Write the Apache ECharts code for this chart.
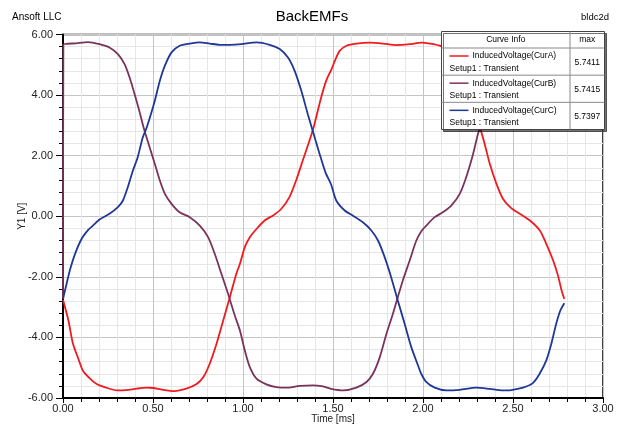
<!DOCTYPE html>
<html>
<head>
<meta charset="utf-8">
<script src="https://cdn.jsdelivr.net/npm/echarts/dist/echarts.min.js"></script>
<style>
  html, body { margin: 0; padding: 0; background: #fff; }
  #chart { width: 617px; height: 424px; }
</style>
</head>
<body>
<div id="chart"></div>
<script>
// BackEMFs – induced voltage of the three coils, [time ms, volts]
const curA = [
  [0, -2.76], [0.03, -3.44], [0.055, -4.2], [0.085, -4.7], [0.11, -5.09], [0.15, -5.36],
  [0.185, -5.53], [0.24, -5.66], [0.3, -5.75], [0.35, -5.74], [0.41, -5.69], [0.465, -5.66],
  [0.5, -5.67], [0.555, -5.73], [0.62, -5.77], [0.685, -5.69], [0.74, -5.55], [0.78, -5.31],
  [0.815, -4.87], [0.853, -4.21], [0.89, -3.44], [0.927, -2.67], [0.963, -1.9], [0.983, -1.57],
  [1.01, -1.02], [1.038, -0.69], [1.075, -0.42], [1.12, -0.14], [1.165, 0.02], [1.212, 0.24],
  [1.258, 0.63], [1.295, 1.18], [1.332, 1.84], [1.369, 2.49], [1.397, 3.04], [1.434, 3.92],
  [1.462, 4.47], [1.492, 4.86], [1.51, 5.13], [1.537, 5.46], [1.575, 5.63], [1.63, 5.7],
  [1.705, 5.73], [1.778, 5.7], [1.852, 5.65], [1.926, 5.68], [1.993, 5.73], [2.037, 5.7],
  [2.093, 5.63], [2.13, 5.5], [2.175, 5.24], [2.215, 4.8], [2.25, 4.14], [2.285, 3.37],
  [2.32, 2.85], [2.343, 2.38], [2.371, 1.73], [2.408, 1.07], [2.445, 0.57], [2.49, 0.27],
  [2.538, 0.08], [2.594, -0.14], [2.649, -0.47], [2.685, -0.91], [2.723, -1.46], [2.75, -1.96],
  [2.77, -2.45], [2.785, -2.73]
];
const curB = [
  [0, -2.72], [0.002, 5.66], [0.074, 5.71], [0.14, 5.75], [0.203, 5.68], [0.258, 5.57],
  [0.305, 5.35], [0.342, 5.02], [0.37, 4.58], [0.398, 4.03], [0.426, 3.43], [0.453, 2.82],
  [0.488, 2.15], [0.51, 1.73], [0.538, 1.18], [0.566, 0.74], [0.603, 0.41], [0.648, 0.13],
  [0.704, -0.03], [0.76, -0.31], [0.806, -0.69], [0.843, -1.24], [0.88, -1.9], [0.917, -2.56],
  [0.954, -3.27], [0.983, -3.77], [1.01, -4.43], [1.038, -4.98], [1.075, -5.36], [1.13, -5.55],
  [1.185, -5.64], [1.25, -5.66], [1.315, -5.6], [1.389, -5.58], [1.445, -5.62], [1.49, -5.7],
  [1.555, -5.75], [1.63, -5.66], [1.686, -5.47], [1.722, -5.2], [1.76, -4.65], [1.797, -3.88],
  [1.833, -3.22], [1.86, -2.67], [1.888, -2.12], [1.926, -1.46], [1.963, -0.8], [1.99, -0.5],
  [2.018, -0.31], [2.065, -0.03], [2.11, 0.13], [2.157, 0.35], [2.204, 0.74], [2.24, 1.29],
  [2.278, 2.05], [2.305, 2.71], [2.32, 2.95], [2.35, 3.5], [2.38, 4.15], [2.42, 4.8],
  [2.46, 5.25], [2.51, 5.5], [2.57, 5.65], [2.64, 5.72], [2.71, 5.69], [2.785, 5.66]
];
const curC = [
  [0, -2.73], [0.02, -2.23], [0.04, -1.74], [0.067, -1.24], [0.103, -0.75], [0.14, -0.45],
  [0.166, -0.31], [0.203, -0.11], [0.258, 0.08], [0.305, 0.3], [0.333, 0.52], [0.36, 0.96],
  [0.388, 1.5], [0.415, 1.95], [0.443, 2.6], [0.465, 2.93], [0.49, 3.4], [0.51, 3.81],
  [0.538, 4.47], [0.566, 4.97], [0.603, 5.41], [0.648, 5.63], [0.704, 5.7], [0.76, 5.74],
  [0.815, 5.7], [0.87, 5.66], [0.926, 5.66], [0.99, 5.68], [1.075, 5.74], [1.148, 5.66],
  [1.204, 5.52], [1.25, 5.24], [1.287, 4.8], [1.324, 4.14], [1.36, 3.37], [1.393, 2.71],
  [1.426, 2.05], [1.458, 1.45], [1.49, 1.04], [1.518, 0.52], [1.565, 0.19], [1.611, 0.02],
  [1.666, -0.2], [1.713, -0.47], [1.75, -0.8], [1.787, -1.35], [1.823, -2.01], [1.86, -2.78],
  [1.898, -3.55], [1.935, -4.32], [1.972, -4.92], [1.99, -5.2], [2.018, -5.47], [2.065, -5.66],
  [2.13, -5.75], [2.204, -5.73], [2.296, -5.66], [2.37, -5.7], [2.443, -5.75], [2.49, -5.74],
  [2.555, -5.66], [2.61, -5.51], [2.648, -5.2], [2.685, -4.76], [2.713, -4.21], [2.74, -3.55],
  [2.763, -3.11], [2.785, -2.87]
];

const curveNames = ["InducedVoltage(CurA)", "InducedVoltage(CurB)", "InducedVoltage(CurC)"];
const setupName = "Setup1 : Transient";
const maxValues = ["5.7411", "5.7415", "5.7397"];
const colors = ["#f01a1f", "#7a3459", "#1f3796"];

const FONT = '"Liberation Sans", Arial, sans-serif';

// Curve info box (Ansoft style table in the top right corner)
const LX = 441.5, LY = 31.5, LW = 163, LH = 98, COLX = 570, HEAD = 16.5;
const ROWH = (LH - HEAD) / 3;

function text(str, x, y, align, size) {
  return {
    type: "text", z: 101,
    style: {
      text: str, x: x, y: y, fill: "#000",
      font: size + "px " + FONT,
      textAlign: align, align: align,
      textVerticalAlign: "middle", verticalAlign: "middle",
    },
  };
}
function line(x1, y1, x2, y2, color, width) {
  return {
    type: "line", z: 101,
    shape: { x1: x1, y1: y1, x2: x2, y2: y2 },
    style: { stroke: color, lineWidth: width },
  };
}

const graphics = [
  text("Ansoft LLC", 12, 17, "left", 10),
  text("BackEMFs", 312, 17, "center", 15),
  text("bldc2d", 609, 17, "right", 9.5),
  {
    type: "rect", z: 100,
    shape: { x: LX, y: LY, width: LW, height: LH },
    style: {
      fill: "#fff", stroke: "#444", lineWidth: 1,
      shadowColor: "rgba(0,0,0,0.55)", shadowOffsetX: 2, shadowOffsetY: 2, shadowBlur: 0,
    },
  },
  line(COLX, LY, COLX, LY + LH, "#888", 1),
  line(LX, LY + HEAD, LX + LW, LY + HEAD, "#888", 1),
  text("Curve Info", (LX + COLX) / 2, LY + HEAD / 2, "center", 8.5),
  text("max", (COLX + LX + LW) / 2, LY + HEAD / 2, "center", 8.5),
];
curveNames.forEach((name, i) => {
  const top = LY + HEAD + i * ROWH;
  if (i > 0) graphics.push(line(LX, top, LX + LW, top, "#888", 1));
  graphics.push(line(LX + 8, top + 8, LX + 27, top + 8, colors[i], 1.5));
  graphics.push(text(name, LX + 31, top + 8, "left", 8.5));
  graphics.push(text(setupName, LX + 8, top + 20.5, "left", 8.5));
  graphics.push(text(maxValues[i], (COLX + LX + LW) / 2, top + 14.5, "center", 8.5));
});

const series = [curA, curB, curC].map((data, i) => ({
  name: curveNames[i],
  type: "line",
  data: data,
  showSymbol: false,
  smooth: 0.25,
  lineStyle: { color: colors[i], width: 1.8 },
  itemStyle: { color: colors[i] },
  z: 3 + i,
}));

const chart = echarts.init(document.getElementById("chart"), null, { renderer: "canvas" });
chart.setOption({
  animation: false,
  backgroundColor: "#fff",
  textStyle: { fontFamily: FONT },
  grid: {
    left: 63, right: 14, top: 34.5, bottom: 26,
    show: true, borderColor: "#000", borderWidth: 1.5, backgroundColor: "#fff",
    outerBoundsMode: "none",
  },
  xAxis: {
    type: "value", min: 0, max: 3, interval: 0.5,
    name: "Time [ms]", nameLocation: "middle", nameGap: 16, nameMoveOverlap: false,
    nameTextStyle: { fontSize: 10, color: "#222", fontFamily: FONT },
    axisLine: { onZero: false, lineStyle: { color: "#000", width: 2 } },
    axisTick: { length: 5, lineStyle: { color: "#000" } },
    minorTick: { show: true, splitNumber: 5, length: 4, lineStyle: { color: "#000" } },
    axisLabel: { formatter: (v) => v.toFixed(2), fontSize: 11, color: "#222", margin: 5, fontFamily: FONT },
    splitLine: { show: true, lineStyle: { color: "#c4c4c4", width: 1 } },
    minorSplitLine: { show: true, lineStyle: { color: "#e6e6e6", width: 1 } },
  },
  yAxis: {
    type: "value", min: -6, max: 6, interval: 2,
    name: "Y1 [V]", nameLocation: "middle", nameGap: 36, nameMoveOverlap: false,
    nameTextStyle: { fontSize: 10, color: "#222", fontFamily: FONT },
    axisLine: { onZero: false, lineStyle: { color: "#000", width: 2 } },
    axisTick: { length: 7, lineStyle: { color: "#000" } },
    minorTick: { show: true, splitNumber: 5, length: 4, lineStyle: { color: "#000" } },
    axisLabel: { formatter: (v) => v.toFixed(2), fontSize: 11, color: "#222", margin: 10, fontFamily: FONT },
    splitLine: { show: true, lineStyle: { color: "#c4c4c4", width: 1 } },
    minorSplitLine: { show: true, lineStyle: { color: "#e6e6e6", width: 1 } },
  },
  graphic: graphics,
  series: series,
});
</script>
</body>
</html>
